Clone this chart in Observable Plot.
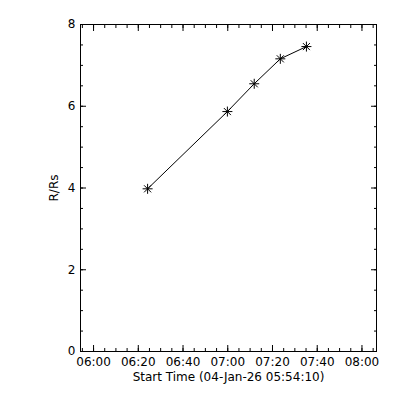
<!DOCTYPE html>
<html><head><meta charset="utf-8">
<script src="https://cdn.jsdelivr.net/npm/d3@7"></script>
<script src="https://cdn.jsdelivr.net/npm/@observablehq/plot@0.6"></script>
<style>body{margin:0;background:#fff}</style>
</head><body><div id="chart"></div>
<script>
// ---- data ----
const dayPrefix = "2026-01-04T";
const startTime = "05:54:10";
const endTime = "08:06:30";
const times = ["06:24:10", "06:59:50", "07:11:50", "07:23:30", "07:35:10"];
const heights = [3.98, 5.87, 6.55, 7.16, 7.46];
const yTicks = [0, 2, 4, 6, 8];
const xLabel = "Start Time (04-Jan-26 05:54:10)";
const yLabel = "R/Rs";

const toDate = t => new Date(dayPrefix + t + "Z");
const data = times.map((t, i) => ({t: toDate(t), r: heights[i]}));

const star8 = {
  draw(ctx, size) {
    const r = Math.sqrt(size / Math.PI);
    const d = r * Math.SQRT1_2;
    ctx.moveTo(-r, 0); ctx.lineTo(r, 0);
    ctx.moveTo(0, -r); ctx.lineTo(0, r);
    ctx.moveTo(-d, -d); ctx.lineTo(d, d);
    ctx.moveTo(-d, d); ctx.lineTo(d, -d);
  }
};

const blank = () => "";
const majorX = d3.utcMinute.every(20);
const minorX = d3.utcMinute.every(5);
const minorY = d3.range(0, 8.001, 0.5);

const chart = Plot.plot({
  width: 400,
  height: 400,
  marginLeft: 80,
  marginRight: 24,
  marginTop: 24,
  marginBottom: 49,
  style: {fontFamily: "DejaVu Sans", fontSize: "12px", color: "black", background: "white"},
  x: {type: "utc", domain: [toDate(startTime), toDate(endTime)]},
  y: {domain: [0, 8]},
  marks: [
    Plot.frame({stroke: "black", strokeWidth: 1}),
    // x ticks (inward, bottom and top)
    Plot.axisX({anchor: "bottom", ticks: majorX, tickSize: -6, tickFormat: blank, label: null}),
    Plot.axisX({anchor: "bottom", ticks: minorX, tickSize: -3, tickFormat: blank, label: null}),
    Plot.axisX({anchor: "top", ticks: majorX, tickSize: -6, tickFormat: blank, label: null}),
    Plot.axisX({anchor: "top", ticks: minorX, tickSize: -3, tickFormat: blank, label: null}),
    Plot.axisX({anchor: "bottom", ticks: majorX, tickSize: 0, tickPadding: 6, tickFormat: d3.utcFormat("%H:%M"), label: null}),
    // y ticks (inward, left and right)
    Plot.axisY(yTicks, {anchor: "left", tickSize: -6, tickFormat: blank, label: null}),
    Plot.axisY(minorY, {anchor: "left", tickSize: -3, tickFormat: blank, label: null}),
    Plot.axisY(yTicks, {anchor: "right", tickSize: -6, tickFormat: blank, label: null}),
    Plot.axisY(minorY, {anchor: "right", tickSize: -3, tickFormat: blank, label: null}),
    Plot.axisY(yTicks, {anchor: "left", tickSize: 0, tickPadding: 5, label: null}),
    // axis titles
    Plot.text([xLabel], {frameAnchor: "bottom", dy: 26, lineAnchor: "middle", textAnchor: "middle", text: d => d, fill: "black"}),
    Plot.text([yLabel], {frameAnchor: "left", dx: -26, rotate: -90, lineAnchor: "middle", textAnchor: "middle", text: d => d, fill: "black"}),
    // fit line and points
    Plot.line(data, {x: "t", y: "r", curve: "linear", stroke: "black", strokeWidth: 1}),
    Plot.dot(data, {x: "t", y: "r", symbol: star8, r: 5, fill: "none", stroke: "black", strokeWidth: 1})
  ]
});
document.getElementById("chart").appendChild(chart);
</script>
</body></html>
